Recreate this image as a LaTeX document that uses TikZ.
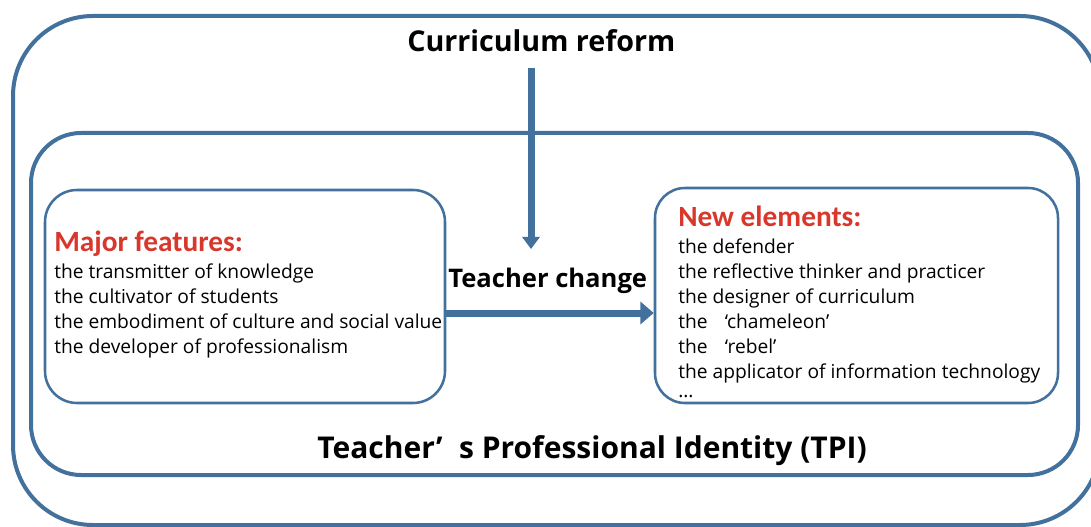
\documentclass[tikz,border=0pt]{standalone}
\usepackage{fontspec}
\setmainfont{Open Sans}
\newfontfamily\headfont{Carlito}
\usetikzlibrary{arrows.meta}
\definecolor{frameblue}{HTML}{41719C}
\definecolor{headred}{HTML}{D9372B}
\begin{document}
\begin{tikzpicture}[x=0.75pt,y=-0.75pt,
  frame/.style={draw=frameblue,line width=3pt,rectangle,inner sep=0pt},
  inbox/.style={draw=frameblue,line width=1.9pt,rectangle,inner sep=0pt},
  bigtitle/.style={anchor=base west,inner sep=0pt,font=\fontsize{21.5}{26}\selectfont\bfseries},
  idtitle/.style={anchor=base west,inner sep=0pt,font=\fontsize{22.5}{27}\selectfont\bfseries},
  midtitle/.style={anchor=base west,inner sep=0pt,font=\fontsize{19.2}{23}\selectfont\bfseries},
  head/.style={anchor=base west,inner sep=0pt,text=headred,font=\headfont\fontsize{22}{26}\selectfont\bfseries},
  item/.style={anchor=base west,inner sep=0pt,font=\fontsize{14.4}{19}\selectfont},
  flow/.style={draw=frameblue,line width=5.25pt},
]
\useasboundingbox (0,0) rectangle (1091,527);
\fill[white] (0,0) rectangle (1091,527);

% nested frames
\node[frame,rounded corners=60pt,minimum width=815.25pt,minimum height=381.75pt] (outer) at (556.5,270.5) {};
\node[frame,rounded corners=37.5pt,minimum width=785.25pt,minimum height=256.5pt] (tpi) at (554.5,304) {};
\node[inbox,rounded corners=24pt,minimum width=300pt,minimum height=159.75pt] (old) at (245,296.5) {};
\node[inbox,rounded corners=22.5pt,minimum width=302.25pt,minimum height=161.25pt] (new) at (856.5,295.5) {};

% titles
\node[bigtitle] (reform) at (407,52) {Curriculum reform};
\node[midtitle] (change) at (448,287) {Teacher change};
\node[idtitle] (ident) at (317,458) {Teacher’\hspace{0.55em}s Professional Identity (TPI)};

% existing features
\node[head] (oldhead) at (54,252) {Major features:};
\node[item] (o1) at (54,278) {the transmitter of knowledge};
\node[item] (o2) at (54,303) {the cultivator of students};
\node[item] (o3) at (54,328) {the embodiment of culture and social value};
\node[item] (o4) at (54,353) {the developer of professionalism};

% emerging elements
\node[head] (newhead) at (678,227) {New elements:};
\node[item] (n1) at (678,253) {the defender};
\node[item] (n2) at (678,278) {the reflective thinker and practicer};
\node[item] (n3) at (678,303) {the designer of curriculum};
\node[item] (n4) at (678,328) {the\hspace{0.9em}‘chameleon’};
\node[item] (n5) at (678,353) {the\hspace{0.9em}‘rebel’};
\node[item] (n6) at (678,378) {the applicator of information technology};
\node[item] (n7) at (678,397) {...};

% connectors
\coordinate (vtop) at (531,68);
\coordinate (vend) at (531,249);
\draw[flow,-{Triangle[width=12.75pt,length=9pt]}] (vtop) -- (vend);
\draw[flow,-{Triangle[width=16.5pt,length=10pt]}] (old.east |- 0,313) -- (new.west |- 0,313);
\end{tikzpicture}
\end{document}
